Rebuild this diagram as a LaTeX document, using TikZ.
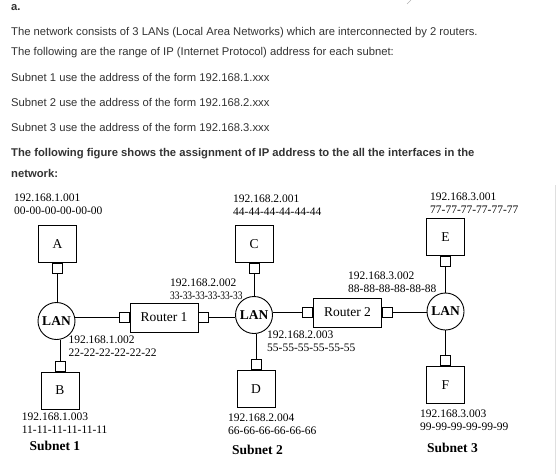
\documentclass[tikz,border=0pt]{standalone}
\usepackage{fontspec}
\setmainfont{Liberation Serif}
\newfontfamily\txtfont{Liberation Sans}
\usepackage{graphicx}
\usepackage{tikz}
\usetikzlibrary{arrows.meta}
\usetikzlibrary{shapes,arrows}
\definecolor{txtgray}{HTML}{333333}

\begin{document}
\begin{tikzpicture}[x=1pt,y=-1pt,
  txt/.style={anchor=west,inner sep=0,text=txtgray,font=\txtfont\fontsize{11.25}{13}\selectfont},
  host/.style={draw,line width=0.9pt,minimum width=38pt,minimum height=37pt,inner sep=0,font=\fontsize{13.5}{15}\selectfont},
  port/.style={draw,line width=0.9pt,minimum size=10pt,inner sep=0},
  lan/.style={circle,draw,line width=0.9pt,minimum size=37pt,inner sep=0,font=\bfseries\fontsize{13.5}{15}\selectfont},
  router/.style={draw,line width=0.9pt,minimum width=68pt,minimum height=29pt,inner sep=0,font=\fontsize{13.5}{15}\selectfont},
  addr/.style={anchor=west,align=left,inner sep=0,font=\fontsize{11.5}{13}\selectfont},
  subnet/.style={anchor=west,inner sep=0,font=\bfseries\fontsize{13.5}{15}\selectfont},
  wire/.style={line width=0.9pt}]
\useasboundingbox (0,0) rectangle (560,474);
\draw [gray!60] (407,4) -- (411,0);
\draw [gray!25] (555,185) -- (555,474);

% question text
\node [txt] (t0) at (11,7.3) {\bfseries a.};
\node [txt] (t1) at (11,32.3) {The network consists of 3 LANs (Local Area Networks) which are interconnected by 2 routers.};
\node [txt] (t2) at (11,52.3) {The following are the range of IP (Internet Protocol) address for each subnet:};
\node [txt] (t3) at (11,77.3) {Subnet 1 use the address of the form 192.168.1.xxx};
\node [txt] (t4) at (11,102.7) {Subnet 2 use the address of the form 192.168.2.xxx};
\node [txt] (t5) at (11,127.7) {Subnet 3 use the address of the form 192.168.3.xxx};
\node [txt] (t6) at (11,153.3) {\bfseries The following figure shows the assignment of IP address to the all the interfaces in the};
\node [txt] (t7) at (11,173.3) {\bfseries network:};

% subnet 1
\node [host] (A) at (57.5,244) {A};
\node [port,anchor=north] (pA) at (A.south) {};
\node [lan] (lan1) at (56.5,321) {LAN};
\node [host] (B) at (60,390.5) {B};
\node [port,anchor=south] (pB) at (B.north) {};
\node [addr] (a1) at (14,204.5) {192.168.1.001\\00-00-00-00-00-00};
\node [addr] (a2) at (68.3,345.7) {192.168.1.002\\22-22-22-22-22-22};
\node [addr] (a3) at (21.7,423.3) {192.168.1.003\\11-11-11-11-11-11};
\node [subnet] (s1) at (29.3,445.7) {Subnet 1};

% routers
\node [router] (R1) at (164,317.5) {Router 1};
\node [port,anchor=east] (r1w) at (R1.west) {};
\node [port,anchor=west] (r1e) at (R1.east) {};
\node [router] (R2) at (347.5,312.5) {Router 2};
\node [port,anchor=east] (r2w) at (R2.west) {};
\node [port,anchor=west] (r2e) at (R2.east) {};

% subnet 2
\node [host] (C) at (254,244) {C};
\node [port,anchor=north] (pC) at (C.south) {};
\node [lan] (lan2) at (254,315) {LAN};
\node [host] (D) at (256,389) {D};
\node [port,anchor=south] (pD) at (D.north) {};
\node [addr] (b1) at (233,205.5) {192.168.2.001\\44-44-44-44-44-44};
\node [addr] (b2) at (170,289.3) {192.168.2.002\\\scalebox{0.82}[1]{33-33-33-33-33-33}};
\node [addr] (b3) at (267,341) {192.168.2.003\\55-55-55-55-55-55};
\node [addr] (b4) at (228,424) {192.168.2.004\\66-66-66-66-66-66};
\node [subnet] (s2) at (232,450) {Subnet 2};

% subnet 3
\node [host] (E) at (445.5,237) {E};
\node [port,anchor=north] (pE) at (E.south) {};
\node [lan] (lan3) at (445.5,311.5) {LAN};
\node [host] (F) at (445.5,385) {F};
\node [port,anchor=south] (pF) at (F.north) {};
\node [addr] (c1) at (430,203.5) {192.168.3.001\\77-77-77-77-77-77};
\node [addr] (c2) at (348,282) {192.168.3.002\\88-88-88-88-88-88};
\node [addr] (c3) at (420,420) {192.168.3.003\\99-99-99-99-99-99};
\node [subnet] (s3) at (427,448) {Subnet 3};

\draw [wire] (pA.south) -- (pA.south |- lan1.north);
\draw [wire] (pB.north) -- (pB.north |- lan1.south);
\draw [wire] (r1w.west) -- (r1w.west -| lan1.east);
\draw [wire] (r1e.east) -- (r1e.east -| lan2.west);
\draw [wire] (pC.south) -- (pC.south |- lan2.north);
\draw [wire] (pD.north) -- (pD.north |- lan2.south);
\draw [wire] (r2w.west) -- (r2w.west -| lan2.east);
\draw [wire] (r2e.east) -- (r2e.east -| lan3.west);
\draw [wire] (pE.south) -- (pE.south |- lan3.north);
\draw [wire] (pF.north) -- (pF.north |- lan3.south);
\end{tikzpicture}
\end{document}
